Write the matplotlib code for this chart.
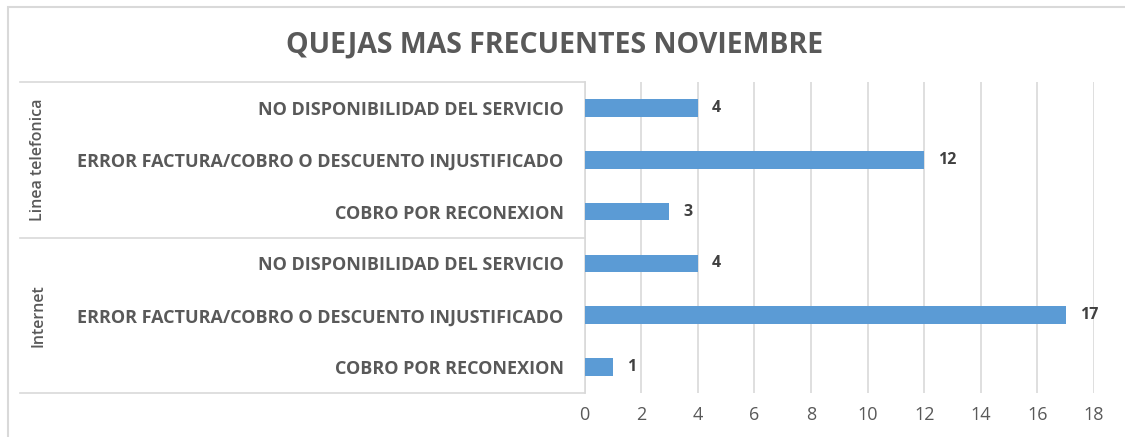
import matplotlib
matplotlib.use("Agg")
import matplotlib.pyplot as plt
from matplotlib.patches import Rectangle
from matplotlib.lines import Line2D

groups = ["Linea telefonica", "Internet"]
categories = ["NO DISPONIBILIDAD DEL SERVICIO",
              "ERROR FACTURA/COBRO O DESCUENTO INJUSTIFICADO",
              "COBRO POR RECONEXION"]
values_linea = [4, 12, 3]
values_internet = [4, 17, 1]
xticks = [0, 2, 4, 6, 8, 10, 12, 14, 16, 18]
title = "QUEJAS MAS FRECUENTES NOVIEMBRE"

W, H = 1125, 437
fig = plt.figure(figsize=(W / 100, H / 100), dpi=100)
fig.patch.set_facecolor("white")

# outer chart border
fig.add_artist(Rectangle((8 / W, -0.05), 1.2, 1 - 7 / H + 0.05, transform=fig.transFigure,
                         fill=False, edgecolor="#d9d9d9", linewidth=1.5))

left, right, top, bottom = 584.5 / W, 1094 / W, 1 - 82 / H, 1 - 393 / H
ax = fig.add_axes([left, bottom, right - left, top - bottom])

labels = categories + categories
values = values_linea + values_internet
ypos = list(range(len(values)))
bar_color = "#5B9BD5"
text_gray = "#595959"
grid_gray = "#d9d9d9"

ax.barh(ypos, values, height=0.34, color=bar_color, zorder=3)
for y, v in zip(ypos, values):
    ax.annotate(str(v), (v, y), xytext=(10, 0), textcoords="offset points",
                ha="left", va="center", fontsize=11.5, fontweight="bold",
                color="#404040", family="Open Sans")

ax.set_xlim(0, 18)
ax.set_ylim(len(values) - 0.5, -0.5)
ax.set_xticks(xticks)
ax.set_xticklabels([str(t) for t in xticks], fontsize=13, color=text_gray, family="Open Sans")
ax.set_yticks(ypos)
ax.set_yticklabels(labels, fontsize=13, fontweight="bold", color=text_gray, family="Open Sans")
ax.tick_params(axis="both", length=0)
ax.tick_params(axis="x", pad=9)
ax.tick_params(axis="y", pad=15)
ax.grid(axis="x", color=grid_gray, linewidth=1.2, zorder=0)
for s in ["top", "right", "bottom"]:
    ax.spines[s].set_visible(False)
ax.spines["left"].set_color(grid_gray)
ax.spines["left"].set_linewidth(1.2)

# category group box lines
trans = ax.get_yaxis_transform()
xl = (20 - 584.5) / (1094 - 584.5)
for yb in [-0.5, 2.5, 5.5]:
    ax.add_line(Line2D([xl, 0], [yb, yb], transform=trans, color=grid_gray,
                       linewidth=1.2, clip_on=False))

# group labels
for i, g in enumerate(groups):
    yc = i * 3 + 1
    ax.text((38 - 584.5) / (1094 - 584.5), yc, g, transform=trans, rotation=90,
            ha="center", va="center", fontsize=11.5, color=text_gray, family="Open Sans",
            fontweight="semibold")

fig.text(555 / W, 1 - 45 / H, title, ha="center", va="center", fontsize=20.5,
         fontweight="bold", color=text_gray, family="Open Sans")

fig.savefig("out.png", dpi=100, facecolor="white")
